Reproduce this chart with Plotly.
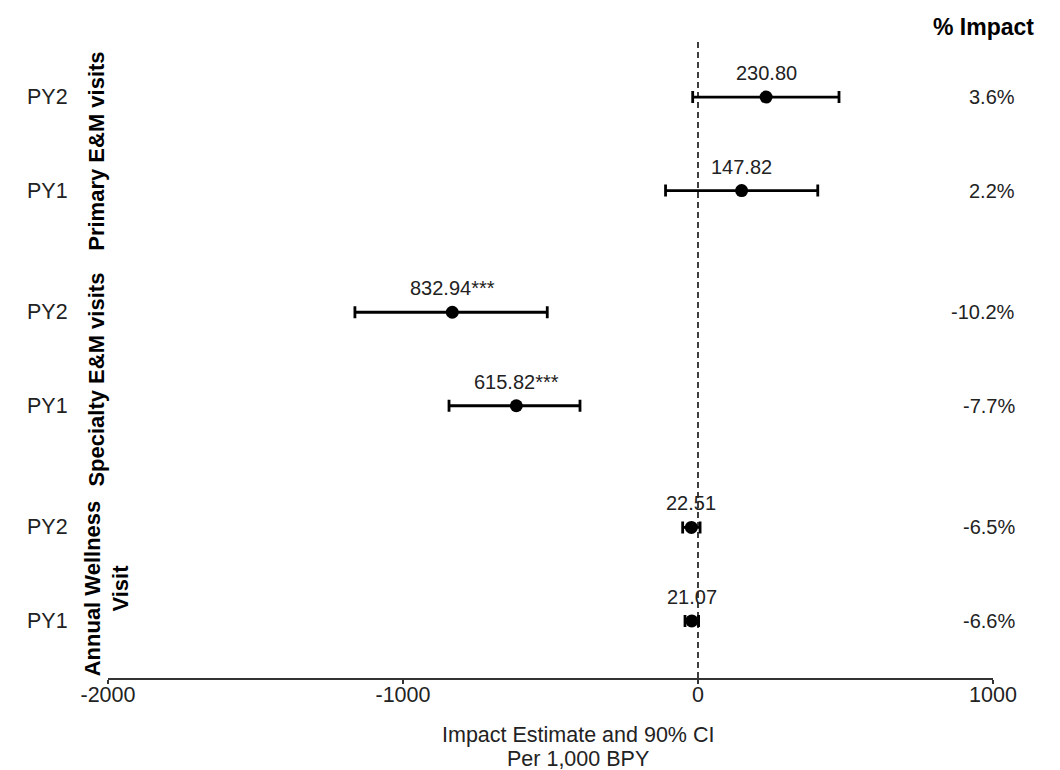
import plotly.graph_objects as go

# ---- data (rows bottom to top) ----
groups = ["Annual Wellness<br>Visit", "Specialty E&M visits", "Primary E&M visits"]
periods = ["PY1", "PY2"]
estimates = [-21.07, -22.51, -615.82, -832.94, 147.82, 230.80]
ci_low = [-44, -52, -844, -1163, -110, -18]
ci_high = [2, 7, -400, -511, 406, 478]
value_labels = ["21.07", "22.51", "615.82***", "832.94***", "147.82", "230.80"]
pct_impact = ["-6.6%", "-6.5%", "-7.7%", "-10.2%", "2.2%", "3.6%"]
x_ticks = [-2000, -1000, 0, 1000]
x_tick_text = ["-2000", "-1000", "0", "1000"]
x_title_lines = ["Impact Estimate and 90% CI", "Per 1,000 BPY"]

FONT = "Liberation Sans, Arial, sans-serif"

# y positions: group spacing with gap
ys = []
row_period = []
for gi in range(len(groups)):
    for pi, p in enumerate(periods):
        ys.append(1 + gi * 2.3 + pi)
        row_period.append(p)

err_plus = [h - e for h, e in zip(ci_high, estimates)]
err_minus = [e - l for e, l in zip(estimates, ci_low)]

fig = go.Figure()
fig.add_trace(go.Scatter(
    x=estimates, y=ys, mode="markers",
    marker=dict(color="black", size=13),
    error_x=dict(type="data", array=err_plus, arrayminus=err_minus,
                 color="black", thickness=2.8, width=6),
    showlegend=False, hoverinfo="skip",
))

fig.add_shape(type="line", x0=0, x1=0, xref="x", y0=0, y1=1, yref="paper",
              line=dict(color="black", width=1.5, dash="6px,4px"), layer="below")

ann = []
for x, y, t in zip(estimates, ys, value_labels):
    ann.append(dict(x=x, y=y, xref="x", yref="y", text=t, showarrow=False,
                    yshift=24, font=dict(size=20, color="#222", family=FONT)))
for y, p in zip(ys, row_period):
    ann.append(dict(x=-0.0938, y=y, xref="paper", yref="y", text=p, showarrow=False,
                    xanchor="left", font=dict(size=21.5, color="#222", family=FONT)))
for y, t in zip(ys, pct_impact):
    ann.append(dict(x=1.027, y=y, xref="paper", yref="y", text=t, showarrow=False,
                    xanchor="right", font=dict(size=20, color="#222", family=FONT)))

group_pos = [(-0.0017, 1.354), (-0.0124, 3.58), (-0.0124, 6.016)]
for g, (gx, gy) in zip(groups, group_pos):
    ann.append(dict(x=gx, y=gy, xref="paper", yref="y", text="<b>" + g + "</b>",
                    showarrow=False, textangle=-90, xanchor="center", yanchor="middle",
                    font=dict(size=22, color="black", family=FONT)))

ann.append(dict(x=0.989, y=1.0204, xref="paper", yref="paper", text="<b>% Impact</b>",
                showarrow=False, xanchor="center", yanchor="middle",
                font=dict(size=23, color="black", family=FONT)))
for t, ty in zip(x_title_lines, [-0.0893, -0.1275]):
    ann.append(dict(x=0.531, y=ty, xref="paper", yref="paper", text=t,
                    showarrow=False, xanchor="center", yanchor="middle",
                    font=dict(size=21.5, color="#222", family=FONT)))

fig.update_layout(
    width=1044, height=762,
    margin=dict(l=100, r=59, t=32, b=92),
    paper_bgcolor="white", plot_bgcolor="white",
    font=dict(family=FONT, size=20, color="#222"),
    annotations=ann,
    xaxis=dict(range=[-2000, 1000], tickvals=x_ticks, ticktext=x_tick_text,
               showline=True, linecolor="#333", linewidth=1.5,
               ticks="outside", ticklen=4, tickcolor="#333", tickwidth=1.5,
               ticklabelstandoff=-8,
               showgrid=False, zeroline=False,
               tickfont=dict(size=21.5, color="#222", family=FONT)),
    yaxis=dict(range=[0.39, 7.21], visible=False),
)

fig.write_html("out.html")
